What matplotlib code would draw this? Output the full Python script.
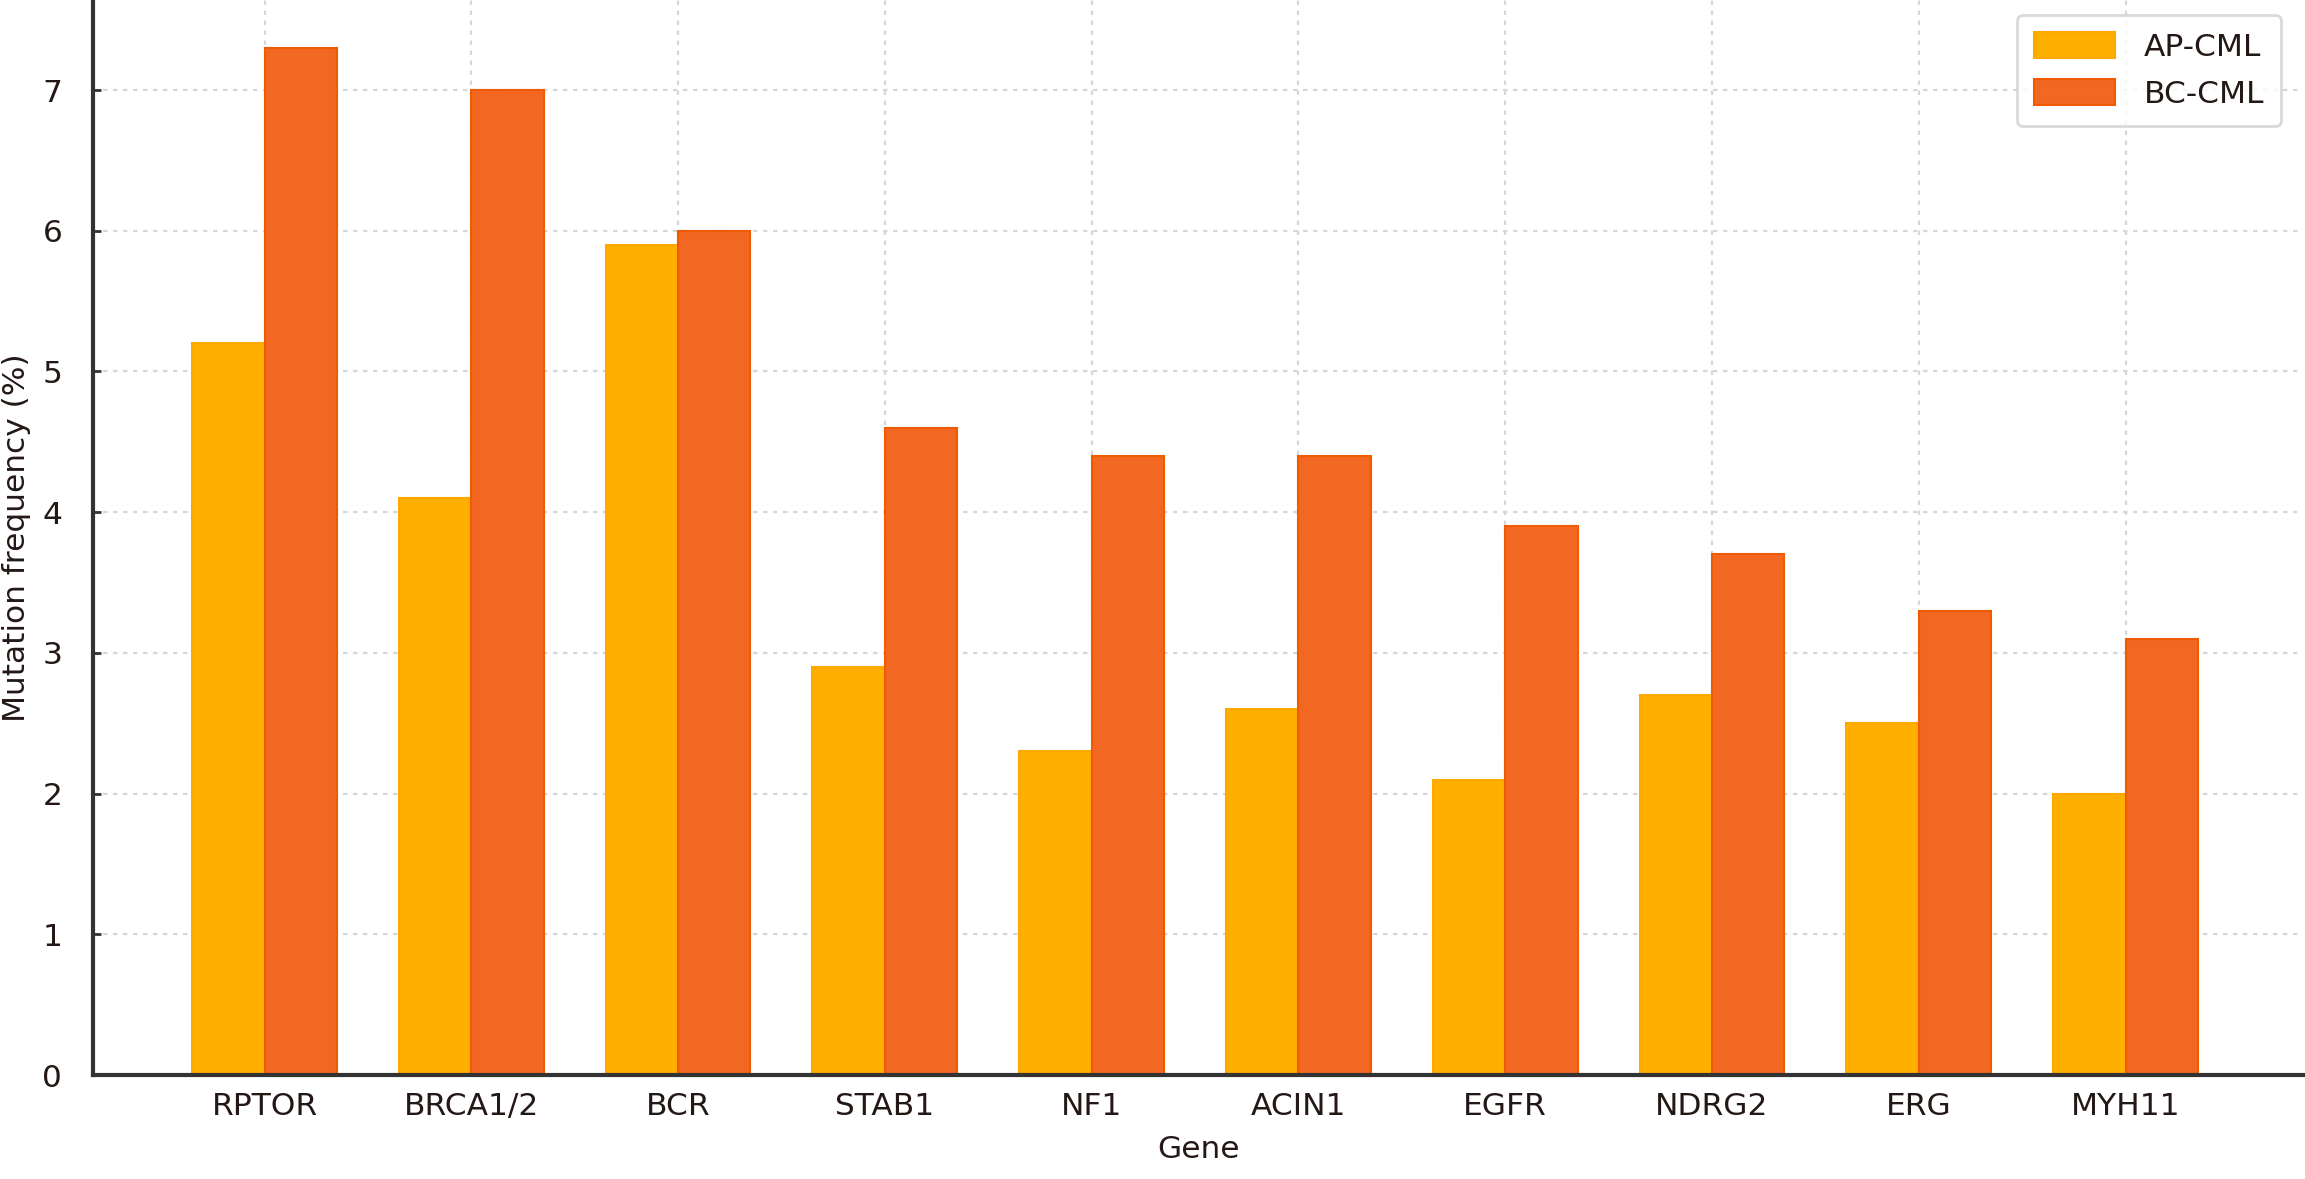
import numpy as np
import matplotlib
matplotlib.use("Agg")
import matplotlib.pyplot as plt

# Data
genes = ["RPTOR", "BRCA1/2", "BCR", "STAB1", "NF1", "ACIN1", "EGFR", "NDRG2", "ERG", "MYH11"]
ap_cml = [5.2, 4.1, 5.9, 2.9, 2.3, 2.6, 2.1, 2.7, 2.5, 2.0]
bc_cml = [7.3, 7.0, 6.0, 4.6, 4.4, 4.4, 3.9, 3.7, 3.3, 3.1]
y_ticks = [0, 1, 2, 3, 4, 5, 6, 7]

plt.rcParams['font.family'] = ['DejaVu Sans']
text_color = '#231815'

fig = plt.figure(figsize=(23.05, 11.79), dpi=100)
ax = fig.add_axes([0.0403, 0.0882, 0.959, 0.9118])

x = np.arange(len(genes))
width = 0.35

ax.bar(x - width / 2, ap_cml, width, color='#FFAF00', edgecolor='#FFA800',
       linewidth=1.5, label='AP-CML', zorder=2)
ax.bar(x + width / 2, bc_cml, width, color='#F26822', edgecolor='#F05A00',
       linewidth=1.5, label='BC-CML', zorder=2)

ax.set_xlim(-0.83, 9.86)
ax.set_ylim(0, 7.64)
ax.set_xticks(x)
ax.set_xticklabels(genes)
ax.set_yticks(y_ticks)

ax.grid(True, linestyle=(0, (2, 2.5)), color='#d3d8dc', linewidth=1.6, zorder=0)
ax.set_axisbelow(True)

for side in ['top', 'right']:
    ax.spines[side].set_visible(False)
for side in ['left', 'bottom']:
    ax.spines[side].set_color('#333333')
    ax.spines[side].set_linewidth(3)

ax.tick_params(axis='both', direction='in', length=6, width=2, color='#333333',
               labelsize=22.5, labelcolor=text_color)
ax.tick_params(axis='y', pad=22)
ax.tick_params(axis='x', pad=12)

ax.set_xlabel('Gene', fontsize=22.5, color=text_color, labelpad=10)
ax.set_ylabel('Mutation frequency (%)', fontsize=22.5, color=text_color, labelpad=8)

leg = ax.legend(loc='upper right', bbox_to_anchor=(0.990, 0.986), borderaxespad=0,
                fontsize=22.5, frameon=True, fancybox=True, handlelength=2.6,
                handleheight=0.9, handletextpad=0.9, labelspacing=0.55,
                borderpad=0.55)
leg.get_frame().set_edgecolor('#d0d0d0')
leg.get_frame().set_linewidth(2)
for t in leg.get_texts():
    t.set_color(text_color)

fig.savefig('out.png', dpi=100)
